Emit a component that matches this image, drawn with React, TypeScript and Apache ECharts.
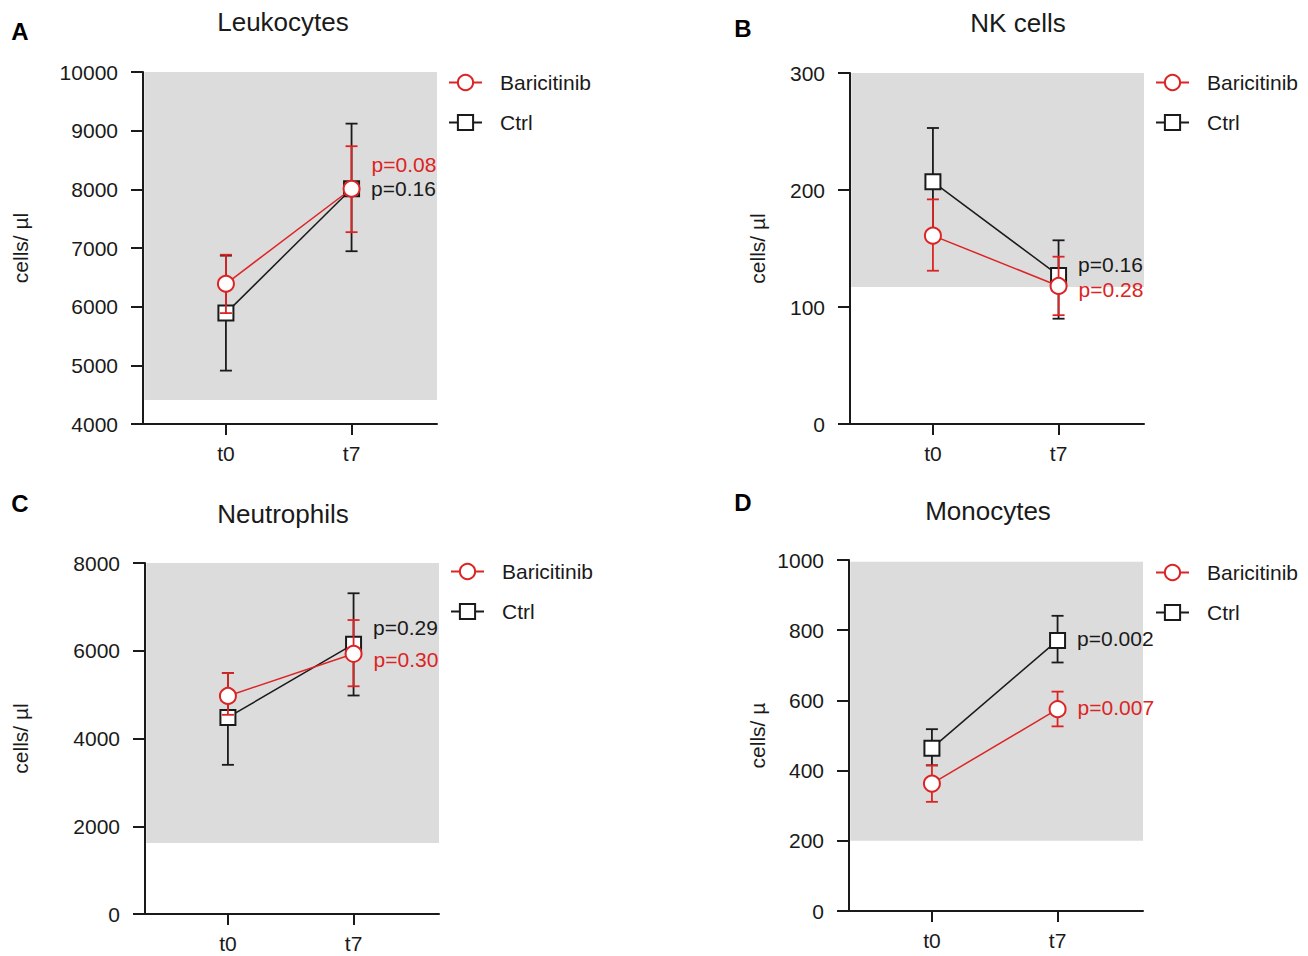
import React, { useEffect, useRef } from 'react';
import * as echarts from 'echarts';

// ---------- data ----------
const timepoints = ['t0', 't7'];
const panelTitles = ['Leukocytes', 'NK cells', 'Neutrophils', 'Monocytes'];
const panelLetters = ['A', 'B', 'C', 'D'];
const yAxisNames = ['cells/ µl', 'cells/ µl', 'cells/ µl', 'cells/ µ'];
const seriesNames = ['Baricitinib', 'Ctrl'];

const yMin = [4000, 0, 0, 0];
const yMax = [10000, 300, 8000, 1000];
const yInterval = [1000, 100, 2000, 200];

// reference (normal) ranges, shaded
const refLow = [4410, 117, 1620, 200];
const refHigh = [10000, 300, 8000, 995];

// Leukocytes
const leukoBari = [6390, 8010];
const leukoBariLow = [5890, 7270];
const leukoBariHigh = [6885, 8735];
const leukoCtrl = [5890, 8010];
const leukoCtrlLow = [4910, 6945];
const leukoCtrlHigh = [6870, 9120];

// NK cells
const nkBari = [161, 118];
const nkBariLow = [131, 93];
const nkBariHigh = [192, 143];
const nkCtrl = [207, 127];
const nkCtrlLow = [161, 90];
const nkCtrlHigh = [253, 157];

// Neutrophils
const neutroBari = [4970, 5930];
const neutroBariLow = [4540, 5190];
const neutroBariHigh = [5490, 6700];
const neutroCtrl = [4480, 6150];
const neutroCtrlLow = [3400, 4980];
const neutroCtrlHigh = [5490, 7310];

// Monocytes
const monoBari = [363, 575];
const monoBariLow = [311, 526];
const monoBariHigh = [415, 625];
const monoCtrl = [464, 771];
const monoCtrlLow = [415, 708];
const monoCtrlHigh = [518, 841];

const pBari = ['p=0.08', 'p=0.28', 'p=0.30', 'p=0.007'];
const pCtrl = ['p=0.16', 'p=0.16', 'p=0.29', 'p=0.002'];

const bariMean = [leukoBari, nkBari, neutroBari, monoBari];
const bariLow = [leukoBariLow, nkBariLow, neutroBariLow, monoBariLow];
const bariHigh = [leukoBariHigh, nkBariHigh, neutroBariHigh, monoBariHigh];
const ctrlMean = [leukoCtrl, nkCtrl, neutroCtrl, monoCtrl];
const ctrlLow = [leukoCtrlLow, nkCtrlLow, neutroCtrlLow, monoCtrlLow];
const ctrlHigh = [leukoCtrlHigh, nkCtrlHigh, neutroCtrlHigh, monoCtrlHigh];

// ---------- layout / style ----------
const FONT = '"Liberation Sans", Arial, Helvetica, sans-serif';
const RED = '#dc2424';
const BLACK = '#1a1a1a';
const TEXT = '#1a1a1a';
const GREY = '#dcdcdc';
const X_MIN = -0.66;
const X_MAX = 1.68;
const BAND_X0 = -0.65;
const FS = 21;

const grids = [
  { left: 143, top: 72, width: 294, height: 352 },
  { left: 850, top: 73, width: 294, height: 351 },
  { left: 145, top: 563, width: 294, height: 351 },
  { left: 849, top: 560, width: 294, height: 351 },
];
const legendPos = [
  { left: 448, top: 72 },
  { left: 1155, top: 72 },
  { left: 450, top: 561 },
  { left: 1155, top: 562 },
];
const titlePos = [
  [283, 22],
  [1018, 23],
  [283, 514],
  [988, 511],
];
const letterPos = [
  [20, 31],
  [743, 28],
  [20, 503],
  [743, 502],
];
const yNameX = [20, 757, 20, 757];
const bariLabelDy = [-24, 4, 6, -2];
const ctrlLabelDy = [0, -11, -17, -2];

function errorBarSeries(i: number, color: string, lows: number[], highs: number[], z: number) {
  return {
    type: 'custom',
    xAxisIndex: i,
    yAxisIndex: i,
    z,
    silent: true,
    data: timepoints.map((_, k) => [k, lows[k], highs[k]]),
    encode: { x: 0, y: [1, 2] },
    renderItem: (params: any, api: any) => {
      const x = api.value(0);
      const lo = api.coord([x, api.value(1)]);
      const hi = api.coord([x, api.value(2)]);
      const w = 6;
      const st = { stroke: color, lineWidth: 1.8 };
      return {
        type: 'group',
        children: [
          { type: 'line', shape: { x1: lo[0], y1: lo[1], x2: hi[0], y2: hi[1] }, style: st },
          { type: 'line', shape: { x1: lo[0] - w, y1: lo[1], x2: lo[0] + w, y2: lo[1] }, style: st },
          { type: 'line', shape: { x1: hi[0] - w, y1: hi[1], x2: hi[0] + w, y2: hi[1] }, style: st },
        ],
      };
    },
  };
}

function bandSeries(i: number) {
  return {
    type: 'custom',
    xAxisIndex: i,
    yAxisIndex: i,
    z: 1,
    silent: true,
    data: [[BAND_X0, X_MAX, refLow[i], refHigh[i]]],
    encode: { x: [0, 1], y: [2, 3] },
    renderItem: (params: any, api: any) => {
      const p0 = api.coord([api.value(0), api.value(3)]);
      const p1 = api.coord([api.value(1), api.value(2)]);
      return {
        type: 'rect',
        shape: { x: p0[0], y: p0[1], width: p1[0] - p0[0], height: p1[1] - p0[1] },
        style: { fill: GREY },
      };
    },
  };
}

function lineSeries(
  i: number,
  name: string,
  color: string,
  symbol: string,
  size: number,
  means: number[],
  pLabel: string,
  dy: number,
  z: number
) {
  return {
    type: 'line',
    name,
    xAxisIndex: i,
    yAxisIndex: i,
    z,
    symbol,
    symbolSize: size,
    showAllSymbol: true,
    lineStyle: { color, width: 1.5 },
    itemStyle: { color: '#ffffff', borderColor: color, borderWidth: 2 },
    data: timepoints.map((_, k) =>
      k === timepoints.length - 1
        ? {
            value: [k, means[k]],
            label: {
              show: true,
              position: 'right',
              distance: 11,
              offset: [0, dy],
              formatter: pLabel,
              color,
              fontSize: FS,
              fontFamily: FONT,
            },
          }
        : { value: [k, means[k]] }
    ),
  };
}

export default function App() {
  const ref = useRef<HTMLDivElement>(null);
  useEffect(() => {
    document.body.style.margin = '0';
    if (!ref.current) return;
    const chart = echarts.init(ref.current, undefined, { renderer: 'svg' });

    const xAxis = grids.map((_, i) => ({
      type: 'value',
      gridIndex: i,
      min: X_MIN,
      max: X_MAX,
      z: 6,
      splitLine: { show: false },
      axisLine: { show: true, onZero: false, lineStyle: { color: BLACK, width: 2 } },
      axisTick: { show: true, length: 11, lineStyle: { color: BLACK, width: 2 }, customValues: [0, 1] },
      axisLabel: {
        show: true,
        customValues: [0, 1],
        formatter: (v: number) => timepoints[Math.round(v)] ?? '',
        color: TEXT,
        fontSize: FS,
        fontFamily: FONT,
        margin: 19,
      },
    }));

    const yAxis = grids.map((_, i) => ({
      type: 'value',
      gridIndex: i,
      min: yMin[i],
      max: yMax[i],
      interval: yInterval[i],
      z: 6,
      splitLine: { show: false },
      axisLine: { show: true, onZero: false, lineStyle: { color: BLACK, width: 2 } },
      axisTick: { show: true, length: 12, lineStyle: { color: BLACK, width: 2 } },
      axisLabel: {
        color: TEXT,
        fontSize: FS,
        fontFamily: FONT,
        margin: 25,
        formatter: (v: number) => String(v),
      },
    }));

    const series: any[] = [];
    grids.forEach((_, i) => {
      series.push(bandSeries(i));
      series.push(errorBarSeries(i, BLACK, ctrlLow[i], ctrlHigh[i], 2));
      series.push(lineSeries(i, seriesNames[1], BLACK, 'rect', 15, ctrlMean[i], pCtrl[i], ctrlLabelDy[i], 3));
      series.push(errorBarSeries(i, RED, bariLow[i], bariHigh[i], 4));
      series.push(lineSeries(i, seriesNames[0], RED, 'circle', 16, bariMean[i], pBari[i], bariLabelDy[i], 5));
    });

    const legend = legendPos.map((p) => ({
      left: p.left,
      top: p.top,
      padding: 0,
      orient: 'vertical',
      data: seriesNames,
      itemWidth: 33,
      itemHeight: 19,
      itemGap: 19,
      selectedMode: false,
      textStyle: { color: TEXT, fontSize: FS, fontFamily: FONT, padding: [0, 0, 0, 13] },
    }));

    const graphics: any[] = [];
    grids.forEach((g, i) => {
      graphics.push({
        type: 'text',
        x: titlePos[i][0],
        y: titlePos[i][1],
        style: { text: panelTitles[i], fontSize: 26, fontFamily: FONT, fill: TEXT, align: 'center', verticalAlign: 'middle' },
      });
      graphics.push({
        type: 'text',
        x: letterPos[i][0],
        y: letterPos[i][1],
        style: { text: panelLetters[i], fontSize: 24, fontWeight: 'bold', fontFamily: FONT, fill: '#000', align: 'center', verticalAlign: 'middle' },
      });
      graphics.push({
        type: 'text',
        x: yNameX[i],
        y: g.top + g.height / 2,
        rotation: Math.PI / 2,
        style: { text: yAxisNames[i], fontSize: FS, fontFamily: FONT, fill: TEXT, align: 'center', verticalAlign: 'middle' },
      });
    });

    chart.setOption({
      animation: false,
      backgroundColor: '#ffffff',
      grid: grids.map((g) => ({ ...g, containLabel: false })),
      xAxis,
      yAxis,
      legend,
      series,
      graphic: graphics,
    });
    return () => chart.dispose();
  }, []);
  return <div ref={ref} style={{ width: 1308, height: 956 }} />;
}
